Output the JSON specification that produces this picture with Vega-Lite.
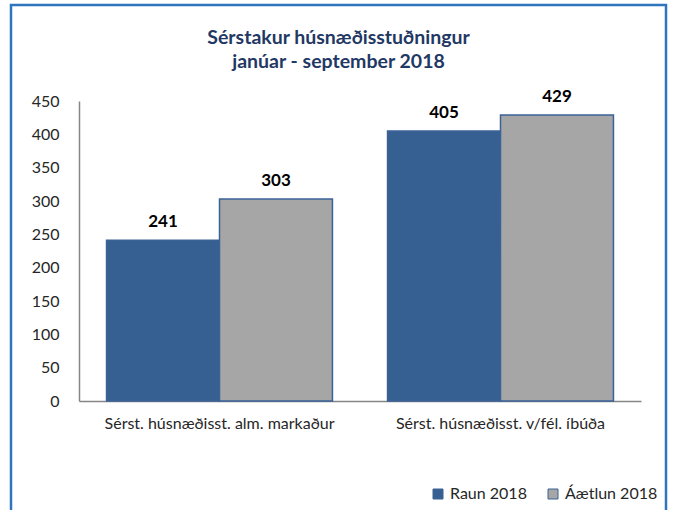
{
  "$schema": "https://vega.github.io/schema/vega-lite/v6.json",
  "autosize": "none",
  "width": 655,
  "height": 505,
  "padding": {"left": 11, "top": 5, "right": 7, "bottom": 0},
  "background": "white",
  "config": {
    "font": "Lato",
    "view": {"stroke": "#2F75BE", "strokeWidth": 2.5, "strokeDash": [1160, 655, 505]}
  },
  "title": {
    "text": ["Sérstakur húsnæðisstuðningur", "janúar - september 2018"],
    "anchor": "middle",
    "frame": "group",
    "orient": "top",
    "offset": -67,
    "fontSize": 19.5,
    "fontWeight": "bold",
    "color": "#1F3864",
    "lineHeight": 24,
    "font": "Lato"
  },
  "data": {
    "values": [
      {"flokkur": "Sérst. húsnæðisst. alm. markaður", "rod": "Raun 2018", "gildi": 241},
      {"flokkur": "Sérst. húsnæðisst. alm. markaður", "rod": "Áætlun 2018", "gildi": 303},
      {"flokkur": "Sérst. húsnæðisst. v/fél. íbúða", "rod": "Raun 2018", "gildi": 405},
      {"flokkur": "Sérst. húsnæðisst. v/fél. íbúða", "rod": "Áætlun 2018", "gildi": 429}
    ]
  },
  "encoding": {
    "x": {
      "field": "flokkur",
      "type": "nominal",
      "sort": null,
      "title": null,
      "scale": {"range": [68, 630], "paddingInner": 0.196, "paddingOuter": 0.098},
      "axis": {
        "offset": -109,
        "labelAngle": 0,
        "labelLimit": 0,
        "ticks": false,
        "domainColor": "#868686",
        "domainWidth": 1.5,
        "labelFontSize": 16,
        "labelColor": "#262626",
        "labelPadding": 14,
        "labelFont": "Lato"
      }
    },
    "xOffset": {"field": "rod", "type": "nominal", "sort": ["Raun 2018", "Áætlun 2018"], "scale": {"paddingInner": 0}},
    "y": {
      "field": "gildi",
      "type": "quantitative",
      "title": null,
      "scale": {"domain": [0, 450], "nice": false, "range": [396, 96]},
      "axis": {
        "offset": -68,
        "values": [0, 50, 100, 150, 200, 250, 300, 350, 400, 450],
        "grid": false,
        "ticks": false,
        "domainColor": "#868686",
        "domainWidth": 1.5,
        "labelFontSize": 16,
        "labelColor": "#262626",
        "labelPadding": 20,
        "labelFont": "Lato"
      }
    }
  },
  "layer": [
    {
      "mark": {"type": "bar", "stroke": "#3B6296", "strokeWidth": 1.5},
      "encoding": {
        "color": {
          "field": "rod",
          "type": "nominal",
          "sort": ["Raun 2018", "Áætlun 2018"],
          "scale": {"domain": ["Raun 2018", "Áætlun 2018"], "range": ["#376092", "#A6A6A6"]},
          "legend": {
            "title": null,
            "orient": "bottom-right",
            "direction": "horizontal",
            "offset": 8,
            "symbolType": "square",
            "symbolSize": 100,
            "symbolStrokeColor": "#3B6296",
            "symbolStrokeWidth": 1,
            "labelFontSize": 16,
            "labelColor": "#262626",
            "labelFont": "Lato",
            "columnPadding": 18,
            "symbolOffset": 0,
            "labelOffset": 4
          }
        }
      }
    },
    {
      "mark": {"type": "text", "baseline": "alphabetic", "dy": -13, "fontSize": 17, "fontWeight": "bold", "color": "black", "font": "Lato"},
      "encoding": {"text": {"field": "gildi", "type": "quantitative"}}
    }
  ]
}
